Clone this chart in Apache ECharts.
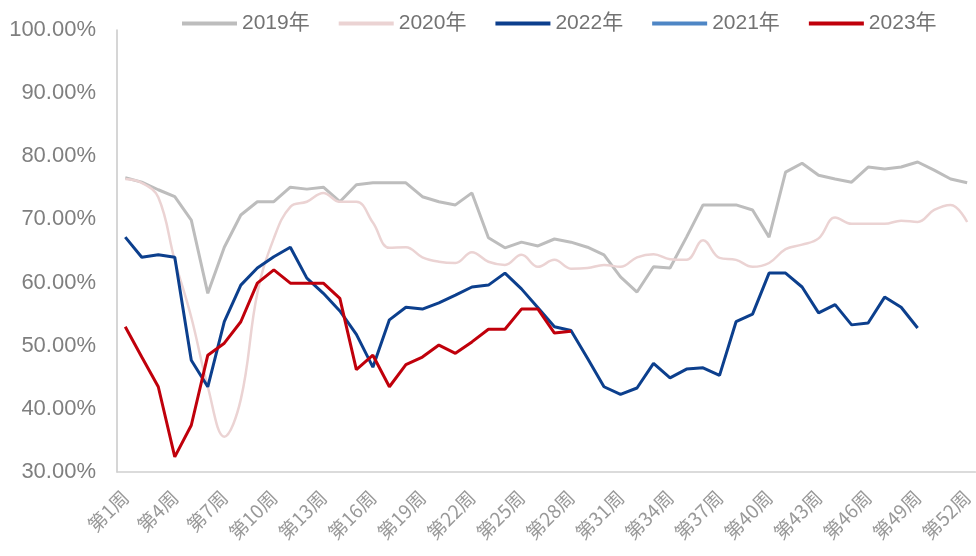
<!DOCTYPE html>
<html>
<head>
<meta charset="utf-8">
<script src="https://cdn.jsdelivr.net/npm/echarts@6/dist/echarts.min.js"></script>
<style>
html,body{margin:0;padding:0;background:#fff;}
#chart{width:976px;height:556px;}
</style>
</head>
<body>
<div id="chart"></div>
<script>
var weeks = [];
for (var i = 1; i <= 52; i++) weeks.push('第' + i + '周');

var yTicks = [30, 40, 50, 60, 70, 80, 90, 100];

var s2019 = [76.6,75.9,74.7,73.6,69.9,58.3,65.6,70.7,72.8,72.8,75.1,74.8,75.1,72.8,75.5,75.8,75.8,75.8,73.6,72.8,72.3,74.2,67.1,65.5,66.4,65.8,66.9,66.4,65.6,64.4,60.9,58.5,62.5,62.3,67.2,72.3,72.3,72.3,71.5,67.2,77.5,78.9,77.0,76.4,75.9,78.3,78.0,78.3,79.1,77.8,76.4,75.8];

var s2020 = [76.4,75.8,73.5,63.5,54.5,43.5,35.6,41.5,58.3,67.0,72.0,72.8,74.2,72.8,72.8,69.5,65.5,65.6,64.0,63.3,63.1,64.8,63.3,62.8,64.4,62.5,63.6,62.2,62.3,62.8,62.5,64.0,64.5,63.7,63.6,66.7,63.9,63.6,62.5,63.1,65.3,66.0,67.0,70.3,69.3,69.3,69.3,69.8,69.6,71.5,72.3,69.6];

var s2022 = [67.2,64.0,64.4,64.0,47.7,43.5,53.8,59.6,62.3,64.1,65.6,60.7,58.3,55.5,51.8,46.6,54.1,56.1,55.8,56.8,58.0,59.3,59.6,61.5,59.0,56.0,53.0,52.4,48.0,43.5,42.3,43.3,47.2,44.9,46.3,46.5,45.3,53.8,55.0,61.5,61.5,59.3,55.2,56.5,53.3,53.6,57.7,56.1,52.8];

var s2021 = [];

var s2023 = [53.0,48.2,43.5,32.4,37.4,48.5,50.4,53.8,59.9,62.0,59.9,59.9,59.9,57.5,46.2,48.5,43.5,47.0,48.2,50.1,48.8,50.6,52.6,52.6,55.8,55.8,52.0,52.3];

var chart = echarts.init(document.getElementById('chart'));
function line(name, data, color, width, smooth, z) {
  return {
    name: name, type: 'line', data: data, symbol: 'none', smooth: smooth,
    lineStyle: {color: color, width: width}, itemStyle: {color: color}, z: z
  };
}
chart.setOption({
  animation: false,
  legend: {
    top: 8, left: 177,
    itemWidth: 55, itemHeight: 4, itemGap: 29, icon: 'rect',
    textStyle: {color: '#737373', fontSize: 21, fontFamily: 'Liberation Sans, Noto Sans CJK SC'},
    data: ['2019年', '2020年', '2022年', '2021年', '2023年']
  },
  grid: {left: 117, right: 0, top: 30, bottom: 84, containLabel: false},
  xAxis: {
    type: 'category', data: weeks, boundaryGap: true,
    axisLine: {lineStyle: {color: '#D0D0D0', width: 1.5}},
    axisTick: {show: false},
    axisLabel: {interval: 2, rotate: 45, color: '#999999', fontSize: 19, margin: 22,
      fontFamily: 'Noto Sans CJK SC'}
  },
  yAxis: {
    type: 'value', min: yTicks[0], max: yTicks[yTicks.length - 1], interval: 10,
    axisLine: {show: true, lineStyle: {color: '#C8C8C8', width: 1.5}},
    axisTick: {show: false},
    splitLine: {show: false},
    axisLabel: {color: '#7f7f7f', fontSize: 22, margin: 21,
      fontFamily: 'Liberation Sans',
      formatter: function (v) { return v.toFixed(2) + '%'; }}
  },
  series: [
    line('2019年', s2019, '#BDBDBD', 3, false, 1),
    line('2020年', s2020, '#EBD3D3', 2.5, 0.4, 2),
    line('2022年', s2022, '#0C3F8D', 3, false, 4),
    line('2021年', s2021, '#4E86C5', 3, false, 3),
    line('2023年', s2023, '#C0000B', 3, false, 5)
  ]
});
</script>
</body>
</html>
